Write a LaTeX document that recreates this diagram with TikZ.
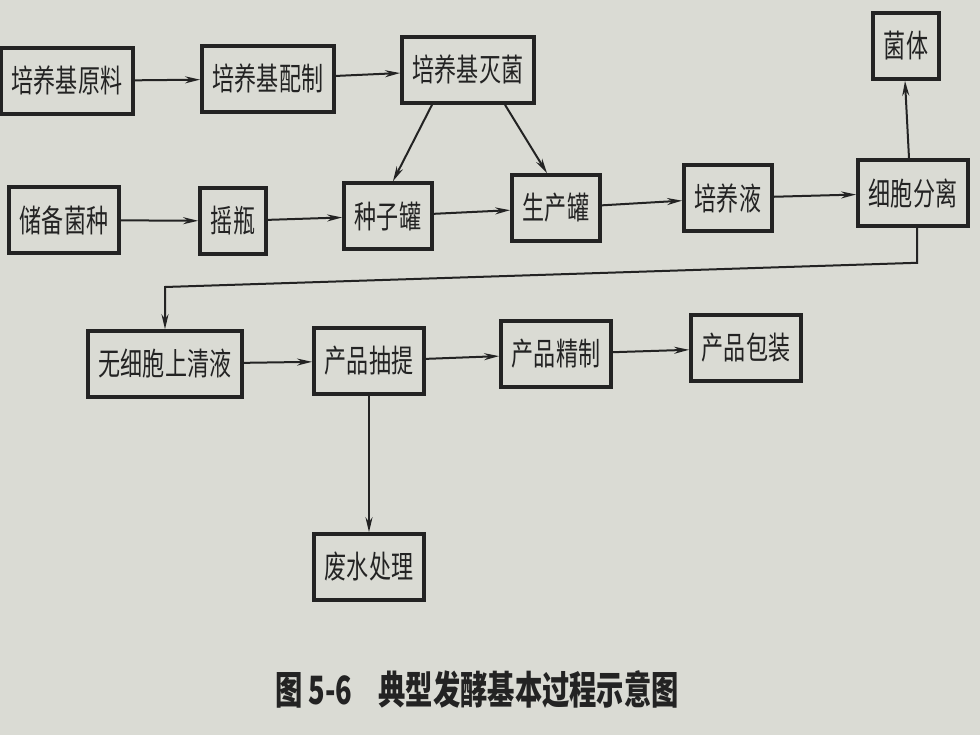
\documentclass[tikz,border=0pt]{standalone}
\usepackage{fontspec}
\newfontfamily\cjk[FakeStretch=0.7]{Noto Sans CJK SC}
\usetikzlibrary{arrows.meta}
\definecolor{paper}{RGB}{218,219,212}
\definecolor{ink}{RGB}{35,35,35}

\begin{document}
\begin{tikzpicture}[x=1pt,y=-1pt]
	 \tikzstyle{box}=[draw=ink,line width=3.6pt,rectangle,minimum height=66pt,inner xsep=11pt,text=ink,font=\cjk\fontsize{31.5}{34}\selectfont]
	 \tikzstyle{link}=[draw=ink,line width=2pt,-{Stealth[length=15pt,width=7pt]}]
	 \fill[paper] (0,0) rectangle (980,735);
	 \useasboundingbox (0,0) rectangle (980,735);
	 \node[box] (yl) at (67,81) {培养基原料};
	 \node[box] (pz) at (268,79) {培养基配制};
	 \node[box] (mj) at (468,70) {培养基灭菌};
	 \node[box] (jt) at (906,46) {菌体};
	 \node[box] (cz) at (64,220) {储备菌种};
	 \node[box] (yp) at (233,221) {摇瓶};
	 \node[box] (zz) at (388,216) {种子罐};
	 \node[box] (sc) at (556,208) {生产罐};
	 \node[box] (pyy) at (728,198) {培养液};
	 \node[box] (xb) at (913,193) {细胞分离};
	 \node[box] (sq) at (165,364) {无细胞上清液};
	 \node[box] (cq) at (369,361) {产品抽提};
	 \node[box] (jz) at (556,354) {产品精制};
	 \node[box] (bz) at (746,348) {产品包装};
	 \node[box] (fs) at (369,567) {废水处理};
	 \node[text=ink,font=\cjk\bfseries\fontsize{39}{42}\selectfont] (cap) at (477,689) {图\,5-6\hspace{26pt}典型发酵基本过程示意图};
	 \coordinate (bend) at (165,287);
	 \draw[link] (yl) -- (pz);
	 \draw[link] (pz) -- (mj);
	 \draw[link] ([xshift=-36pt]mj.south) -- ([xshift=5pt]zz.north);
	 \draw[link] ([xshift=37pt]mj.south) -- ([xshift=-9pt]sc.north);
	 \draw[link] (cz) -- (yp);
	 \draw[link] (yp) -- (zz);
	 \draw[link] (zz) -- (sc);
	 \draw[link] (sc) -- (pyy);
	 \draw[link] (pyy) -- (xb);
	 \draw[link] ([xshift=-4pt]xb.north) -- ([xshift=-1pt]jt.south);
	 \draw[link] ([xshift=4pt]xb.south) -- ++(0,35) -- (bend) -- (sq.north);
	 \draw[link] (sq) -- (cq);
	 \draw[link] (cq) -- (jz);
	 \draw[link] (jz) -- (bz);
	 \draw[link] (cq) -- (fs);
\end{tikzpicture}
\end{document}
